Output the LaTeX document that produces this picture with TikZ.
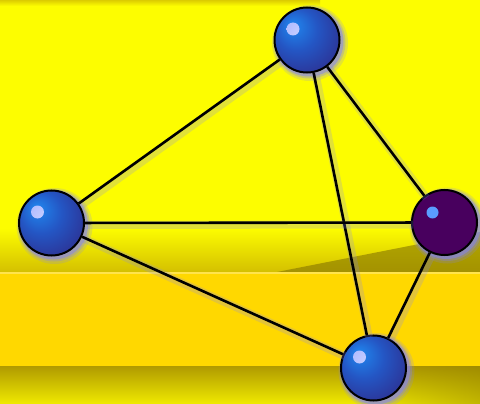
\documentclass[tikz,border=0pt]{standalone}
\usetikzlibrary{calc,fadings}

\definecolor{bgyellow}{HTML}{FDFD00}
\definecolor{bgolive}{HTML}{D4C000}
\definecolor{bggold}{HTML}{FFD800}
\definecolor{bgdeep}{HTML}{B09A00}
\definecolor{bglow}{HTML}{F0EA00}
\definecolor{sphlight}{HTML}{2088F0}
\definecolor{sphmid}{HTML}{2456C4}
\definecolor{sphdark}{HTML}{2E2C8C}
\definecolor{sphspot}{HTML}{A8B4FF}
\definecolor{plum}{HTML}{48005E}
\definecolor{plumspot}{HTML}{5A9CFF}
\definecolor{halo}{HTML}{8080FF}

\pgfdeclareradialshading{bluesphere}{\pgfpoint{-12bp}{12bp}}{%
  color(0bp)=(sphlight); color(16bp)=(sphmid); color(36bp)=(sphdark); color(50bp)=(sphdark)}
\tikzfading[name=fadeleft, left color=transparent!100, right color=transparent!0]

\begin{document}
\begin{tikzpicture}[x=1pt, y=-1pt,
  ball/.style={circle, draw=black, line width=2pt, minimum size=65pt, inner sep=0pt,
    preaction={draw=halo, line width=11pt, opacity=0.2, transform canvas={shift={(3pt,-3pt)}}},
    preaction={draw=halo, line width=7pt, opacity=0.3, transform canvas={shift={(2.5pt,-2.5pt)}}},
    preaction={draw=halo, line width=4pt, opacity=0.5, transform canvas={shift={(2pt,-2pt)}}}},
  blueball/.style={ball, shading=bluesphere,
    path picture={\shade[inner color=sphspot!50!white, outer color=sphspot]
      ($(path picture bounding box.center)+(-14pt,11pt)$) circle (6.5pt);}},
  plumball/.style={ball, fill=plum,
    path picture={\fill[plumspot]
      ($(path picture bounding box.center)+(-12pt,10pt)$) circle (6pt);}},
  link/.style={line width=2.6pt, draw=black,
    preaction={draw=halo, line width=8pt, opacity=0.22, transform canvas={shift={(2pt,-2pt)}}}}]
% background bands
\useasboundingbox (0,0) rectangle (480,404);
\fill[bgyellow] (0,0) rectangle (480,404);
\shade[top color=bgolive!80!bgyellow, bottom color=bgyellow] (0,0) rectangle (320,6);
\shade[top color=bgyellow, bottom color=bgolive] (0,228) rectangle (480,272);
\fill[bgdeep!75!black, opacity=0.6] (277,272) -- (480,232) -- (480,272) -- cycle;
\fill[bggold] (0,272) rectangle (480,366);
\fill[bggold!70!white] (0,272) rectangle (480,274);
\shade[top color=bgdeep, bottom color=bglow] (0,366) rectangle (480,404);
\fill[bgdeep!80!black, opacity=0.45, path fading=fadeleft] (360,366) rectangle (480,404);

% vertices
\node[blueball] (apex) at (307,40) {};
\node[blueball] (west) at (51.5,223) {};
\node[plumball] (east) at (444.5,222.5) {};
\node[blueball] (south) at (373.5,368) {};

% edges
\draw[link] (apex) -- (west);
\draw[link] (apex) -- (east);
\draw[link] (apex) -- (south);
\draw[link] (west) -- (east);
\draw[link] (west) -- (south);
\draw[link] (east) -- (south);
\end{tikzpicture}
\end{document}
